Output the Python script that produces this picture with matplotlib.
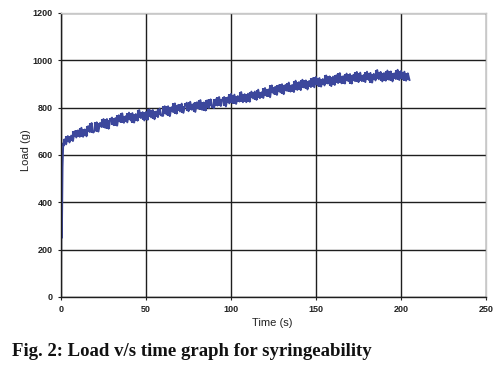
import matplotlib
matplotlib.use("Agg")
import matplotlib.pyplot as plt
import numpy as np

# ---- data ----
start_time = [0, 0.2, 0.5, 0.9, 1.3, 1.7]
start_load = [40, 520, 250, 550, 650, 640]

load_per_second = [  # t = 2 .. 205 s, one reading per second
    666, 645, 680, 653, 682, 659, 700, 674,
    704, 677, 715, 677, 708, 679, 722, 697, 735, 695,
    703, 738, 699, 736, 718, 752, 715, 752, 711, 749,
    758, 726, 756, 724, 768, 739, 776, 736, 764, 738,
    779, 746, 777, 737, 773, 745, 790, 756, 781, 746,
    782, 749, 793, 759, 790, 751, 784, 760, 796, 767,
    765, 806, 772, 806, 764, 802, 781, 818, 775, 812,
    784, 817, 778, 809, 821, 785, 825, 791, 817, 782,
    823, 796, 832, 791, 822, 788, 831, 798, 835, 806,
    798, 835, 809, 845, 807, 836, 845, 805, 843, 818,
    858, 819, 855, 816, 849, 826, 866, 823, 857, 823,
    859, 825, 868, 839, 868, 833, 876, 840, 865, 841,
    883, 849, 877, 844, 894, 860, 888, 854, 894, 865,
    899, 857, 896, 871, 906, 868, 896, 866, 914, 875,
    908, 874, 918, 885, 915, 877, 913, 887, 924, 886,
    930, 894, 925, 889, 921, 894, 936, 902, 932, 891,
    931, 896, 937, 904, 946, 903, 933, 902, 944, 912,
    942, 902, 939, 912, 951, 908, 948, 912, 938, 908,
    952, 917, 947, 906, 943, 915, 959, 920, 951, 911,
    946, 914, 957, 918, 953, 911, 945, 921, 960, 917,
    955, 920, 952, 914, 945, 917,
]
x_ticks = [0, 50, 100, 150, 200, 250]
y_ticks = [0, 200, 400, 600, 800, 1000, 1200]

time = np.array(start_time + list(range(2, 2 + len(load_per_second))), dtype=float)
load = np.array(start_load + load_per_second, dtype=float)

# ---- figure ----
fig = plt.figure(figsize=(5.03, 3.70), dpi=100)
ax = fig.add_axes([61 / 503, 1 - 297 / 370, 425 / 503, 284 / 370])

color = "#3c479c"
# dense signal: vertical strokes spanning each pair of consecutive readings
seg_lo = np.minimum(load[:-1], load[1:])
seg_hi = np.maximum(load[:-1], load[1:])
mask = time[:-1] >= 2
ax.vlines(time[:-1][mask], seg_lo[mask], seg_hi[mask], color=color, lw=1.5)
ax.plot(time, load, color=color, lw=1.4)

ax.set_xlim(0, 250)
ax.set_ylim(0, 1200)
ax.set_xticks(x_ticks)
ax.set_yticks(y_ticks)
ax.grid(True, color="#1e1e1e", lw=1.0)
ax.set_axisbelow(True)

for s in ["left", "bottom"]:
    ax.spines[s].set_color("#1e1e1e")
    ax.spines[s].set_linewidth(1.0)
for s in ["top", "right"]:
    ax.spines[s].set_color("#c8c8c8")
    ax.spines[s].set_linewidth(1.0)

ax.tick_params(axis="both", direction="out", length=2.5, width=0.8,
               color="#1e1e1e", labelsize=6.5, pad=3.5)
for lab in ax.get_xticklabels() + ax.get_yticklabels():
    lab.set_fontfamily("Liberation Sans")
    lab.set_fontweight("bold")
    lab.set_color("#222222")

fig.text(272 / 503, 1 - 323 / 370, "Time (s)", ha="center", va="center",
         fontsize=8, family="Liberation Sans", color="#222222")
fig.text(26 / 503, 1 - 150 / 370, "Load (g)", ha="center", va="center",
         rotation=90, fontsize=8, family="Liberation Sans", color="#222222")

fig.text(12 / 503, 1 - 352 / 370, "Fig. 2: Load v/s time graph for syringeability",
         ha="left", va="center", fontsize=13.5, fontweight="bold",
         family="Liberation Serif", color="#111111")

fig.savefig("out.png", dpi=100)
